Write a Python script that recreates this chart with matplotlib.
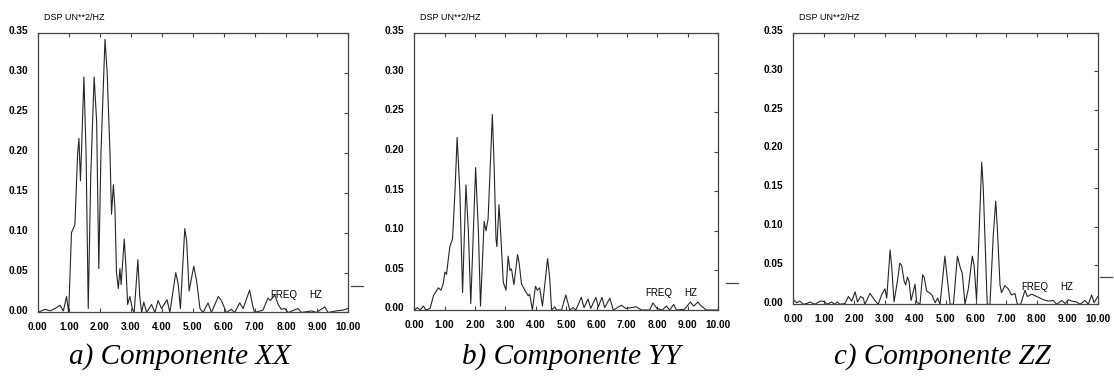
import numpy as np
import matplotlib
matplotlib.use('Agg')
import matplotlib.pyplot as plt
from matplotlib.transforms import ScaledTranslation
from matplotlib.lines import Line2D

# spectral density readings (freq in Hz, DSP in UN**2/HZ)
freq_xx = [0.0, 0.24, 0.4, 0.56, 0.72, 0.83, 0.93, 1.0, 1.09, 1.2, 1.29, 1.33, 1.38, 1.42, 1.49,
           1.56, 1.63, 1.71, 1.82, 1.9, 1.97, 2.04, 2.17, 2.24, 2.33, 2.38, 2.44, 2.49, 2.54,
           2.6, 2.65, 2.69, 2.79, 2.84, 2.9, 2.97, 3.05, 3.11, 3.23, 3.29, 3.35, 3.42, 3.51,
           3.67, 3.78, 3.88, 3.99, 4.17, 4.26, 4.45, 4.53, 4.6, 4.74, 4.8, 4.88, 5.03, 5.12,
           5.23, 5.33, 5.49, 5.6, 5.82, 5.92, 6.08, 6.24, 6.35, 6.51, 6.62, 6.83, 6.92, 6.99,
           7.26, 7.42, 7.5, 7.64, 7.75, 7.85, 7.96, 8.07, 8.39, 8.5, 8.82, 8.98, 9.25, 9.36,
           9.62, 9.84, 10.0]
dsp_xx = [0.0, 0.004, 0.002, 0.005, 0.009, 0.002, 0.02, 0.0, 0.1, 0.11, 0.2, 0.218, 0.165, 0.21, 0.295,
          0.2, 0.005, 0.17, 0.295, 0.24, 0.055, 0.2, 0.342, 0.3, 0.2, 0.123, 0.16, 0.13, 0.05,
          0.03, 0.055, 0.035, 0.092, 0.06, 0.01, 0.02, 0.005, 0.0, 0.066, 0.02, 0.0, 0.013, 0.0,
          0.01, 0.0, 0.015, 0.005, 0.016, 0.0, 0.05, 0.035, 0.005, 0.105, 0.09, 0.027, 0.058, 0.04,
          0.005, 0.0, 0.012, 0.0, 0.02, 0.015, 0.0, 0.004, 0.0, 0.012, 0.005, 0.028, 0.01, 0.0,
          0.003, 0.018, 0.015, 0.022, 0.01, 0.004, 0.005, 0.0, 0.005, 0.0, 0.002, 0.0, 0.007, 0.0,
          0.002, 0.003, 0.005]

freq_yy = [0.0, 0.1, 0.19, 0.3, 0.38, 0.52, 0.63, 0.79, 0.88, 0.95, 1.01, 1.06, 1.17, 1.26, 1.34,
           1.41, 1.5, 1.59, 1.7, 1.78, 1.86, 2.02, 2.11, 2.18, 2.3, 2.36, 2.43, 2.57, 2.63, 2.69,
           2.72, 2.79, 2.84, 2.93, 3.02, 3.09, 3.15, 3.2, 3.28, 3.4, 3.45, 3.53, 3.64, 3.75, 3.8,
           3.89, 3.99, 4.05, 4.13, 4.22, 4.39, 4.46, 4.52, 4.63, 4.68, 4.85, 4.99, 5.12, 5.23,
           5.32, 5.5, 5.59, 5.72, 5.81, 5.98, 6.06, 6.18, 6.27, 6.44, 6.55, 6.82, 6.96, 7.31,
           7.48, 7.75, 7.86, 7.99, 8.17, 8.3, 8.41, 8.54, 8.63, 8.9, 9.09, 9.2, 9.34, 9.45, 9.62,
           9.84, 10.0]
dsp_yy = [0.0, 0.003, 0.0, 0.005, 0.0, 0.002, 0.018, 0.028, 0.025, 0.033, 0.048, 0.045, 0.08, 0.09, 0.15,
          0.218, 0.15, 0.022, 0.158, 0.1, 0.008, 0.18, 0.1, 0.005, 0.112, 0.1, 0.115, 0.247, 0.18, 0.09,
          0.08, 0.133, 0.1, 0.035, 0.025, 0.068, 0.05, 0.052, 0.032, 0.07, 0.06, 0.033, 0.025, 0.018, 0.02,
          0.0, 0.03, 0.025, 0.028, 0.005, 0.065, 0.04, 0.0, 0.004, 0.0, 0.0, 0.019, 0.0, 0.003,
          0.0, 0.016, 0.003, 0.014, 0.002, 0.016, 0.004, 0.016, 0.003, 0.015, 0.0, 0.006, 0.002, 0.004,
          0.0, 0.0, 0.009, 0.002, 0.0, 0.005, 0.0, 0.007, 0.0, 0.001, 0.01, 0.005, 0.01, 0.005, 0.0,
          0.0, 0.0]

freq_zz = [0.0, 0.11, 0.22, 0.33, 0.44, 0.55, 0.71, 0.88, 0.99, 1.12, 1.26, 1.35, 1.45, 1.53, 1.7,
           1.81, 1.92, 2.03, 2.11, 2.21, 2.3, 2.35, 2.52, 2.68, 2.79, 2.9, 3.01, 3.07, 3.18, 3.23,
           3.31, 3.42, 3.5, 3.56, 3.64, 3.69, 3.75, 3.8, 3.87, 4.0, 4.05, 4.16, 4.25, 4.3, 4.38,
           4.47, 4.55, 4.66, 4.74, 4.82, 4.98, 5.04, 5.15, 5.26, 5.39, 5.48, 5.55, 5.64, 5.75,
           5.88, 5.94, 6.02, 6.11, 6.19, 6.24, 6.37, 6.46, 6.57, 6.65, 6.7, 6.79, 6.84, 6.95,
           7.06, 7.17, 7.28, 7.36, 7.47, 7.61, 7.69, 7.83, 8.0, 8.21, 8.38, 8.54, 8.65, 8.82,
           8.93, 9.04, 9.15, 9.31, 9.42, 9.58, 9.69, 9.8, 9.88, 10.0]
dsp_zz = [0.006, 0.002, 0.004, 0.0, 0.001, 0.003, 0.0, 0.004, 0.004, 0.0, 0.003, 0.0, 0.003, 0.0, 0.001,
          0.01, 0.004, 0.016, 0.003, 0.01, 0.008, 0.0, 0.014, 0.005, 0.0, 0.012, 0.02, 0.008, 0.07, 0.05,
          0.003, 0.03, 0.053, 0.05, 0.03, 0.025, 0.035, 0.03, 0.005, 0.026, 0.003, 0.0, 0.038, 0.035, 0.017,
          0.015, 0.012, 0.002, 0.008, 0.0, 0.062, 0.04, 0.0, 0.0, 0.062, 0.048, 0.04, 0.0, 0.02,
          0.062, 0.05, 0.005, 0.1, 0.183, 0.15, 0.0, 0.0, 0.09, 0.133, 0.1, 0.025, 0.015, 0.024,
          0.02, 0.012, 0.014, 0.0, 0.0, 0.018, 0.01, 0.013, 0.01, 0.006, 0.004, 0.005, 0.0, 0.005,
          0.001, 0.006, 0.004, 0.003, 0.0, 0.005, 0.0, 0.012, 0.002, 0.01]

captions = ['a) Componente XX', 'b) Componente YY', 'c) Componente ZZ']
x_ticks = [0, 1, 2, 3, 4, 5, 6, 7, 8, 9, 10]
y_ticks = [0.0, 0.05, 0.10, 0.15, 0.20, 0.25, 0.30, 0.35]
marker_level = [0.0334, 0.0346, 0.0348]   # little dash outside right edge

series = [(freq_xx, dsp_xx), (freq_yy, dsp_yy), (freq_zz, dsp_zz)]

# axes boxes in figure fraction (left, bottom, width, height)
boxes = [[0.0338, 0.1733, 0.2786, 0.7394],
         [0.3719, 0.1799, 0.2726, 0.7328],
         [0.7121, 0.1950, 0.2733, 0.7185]]
dash_x = [(1.009, 1.048), (1.026, 1.066), (1.008, 1.046)]
freq_lbl = [(7.48, 8.74), (7.6, 8.9), (7.48, 8.76)]
caption_x = [180, 571, 943]   # pixel centres of the captions

fig = plt.figure(figsize=(11.14, 3.78), dpi=100)

for i, (f, d) in enumerate(series):
    ax = fig.add_axes(boxes[i])
    ax.plot(f, d, color='#262626', lw=0.8)
    ax.set_xlim(0, 10)
    ax.set_ylim(0, 0.35)
    ax.set_xticks(x_ticks)
    ax.set_xticklabels([f'{t:.2f}' for t in x_ticks])
    ax.set_yticks(y_ticks)
    ax.set_yticklabels([f'{t:.2f}' for t in y_ticks])
    ax.tick_params(axis='x', top=True, bottom=True, direction='in', length=3,
                   width=0.8, color='#444444', pad=7)
    ax.tick_params(axis='y', left=False, right=True, labelleft=True, direction='in',
                   length=3, width=0.8, color='#444444', pad=7)
    for lab in ax.get_xticklabels() + ax.get_yticklabels():
        lab.set_fontfamily('Liberation Sans')
        lab.set_fontweight('bold')
        lab.set_fontsize(7.3)
    # labels sit a bit above their tick in the original
    off = ScaledTranslation(0, 2 / 72, fig.dpi_scale_trans)
    for lab in ax.get_yticklabels():
        lab.set_transform(lab.get_transform() + off)
    for sp in ax.spines.values():
        sp.set_color('#444444')
        sp.set_linewidth(0.9)

    ax.text(0.02, 1.055, 'DSP UN**2/HZ', transform=ax.transAxes, fontsize=6.5,
            family='Liberation Sans', va='center', ha='left')
    ax.text(freq_lbl[i][0], 0.022, 'FREQ', fontsize=7, family='Liberation Sans', va='center')
    ax.text(freq_lbl[i][1], 0.022, 'HZ', fontsize=7, family='Liberation Sans', va='center')

    dash = Line2D(list(dash_x[i]), [marker_level[i]] * 2, color='#444444', lw=0.9,
                  transform=ax.get_yaxis_transform(), clip_on=False)
    ax.add_line(dash)

    fig.text(caption_x[i] / 1114, 1 - 364 / 378, captions[i], ha='center', va='baseline',
             family='Liberation Serif', style='italic', fontsize=21)

fig.savefig('out.png', dpi=100)
